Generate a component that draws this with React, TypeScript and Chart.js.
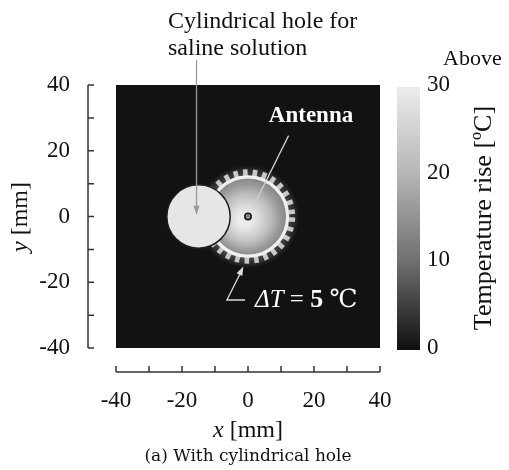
import React, { useEffect, useRef } from 'react';
import { Chart, registerables } from 'chart.js';
Chart.register(...registerables);

// ---- data ----
const axisMin = -40;
const axisMax = 40;
const axisTicks = [-40, -30, -20, -10, 0, 10, 20, 30, 40];
const labeledTicks = [-40, -20, 0, 20, 40];
const colorbarTicks = [0, 10, 20, 30];
const colorbarGray = [18, 112, 182, 238];
const holeCenter = [-15, 0];
const holeRadius = 9.6;
const antennaPos = [0, 0];
// temperature rise (°C) versus distance from antenna (mm), estimated from the grey levels
const heatRadius = [0, 2, 4.5, 7.5, 10, 11.8, 12.6, 14, 15.6];
const heatTemp = [31, 29.5, 26, 21, 16, 13.5, 5, 3, 0];
const contourLevel = 5;
const contourRadius = 12;
const toothOuterRadius = 14.3;
const toothStepDeg = 12.5;

const SERIF = '"Liberation Serif", "DejaVu Serif", serif';

function grayFor(t: number) {
  let g = colorbarGray[0];
  if (t >= colorbarTicks[colorbarTicks.length - 1]) g = colorbarGray[colorbarGray.length - 1];
  else {
    for (let i = 0; i < colorbarTicks.length - 1; i++) {
      if (t >= colorbarTicks[i] && t <= colorbarTicks[i + 1]) {
        const f = (t - colorbarTicks[i]) / (colorbarTicks[i + 1] - colorbarTicks[i]);
        g = colorbarGray[i] + f * (colorbarGray[i + 1] - colorbarGray[i]);
      }
    }
  }
  const v = Math.round(g);
  return `rgb(${v},${v},${v})`;
}

function arrowHead(ctx: CanvasRenderingContext2D, x0: number, y0: number, x1: number, y1: number, len: number, half: number) {
  const ang = Math.atan2(y1 - y0, x1 - x0);
  ctx.beginPath();
  ctx.moveTo(x1, y1);
  ctx.lineTo(x1 - len * Math.cos(ang) + half * Math.sin(ang), y1 - len * Math.sin(ang) - half * Math.cos(ang));
  ctx.lineTo(x1 - len * Math.cos(ang) - half * Math.sin(ang), y1 - len * Math.sin(ang) + half * Math.cos(ang));
  ctx.closePath();
  ctx.fill();
}

const figurePlugin = {
  id: 'figure',
  beforeDatasetsDraw(chart: any) {
    const { ctx, chartArea: a, scales } = chart;
    const X = (v: number) => scales.x.getPixelForValue(v);
    const Y = (v: number) => scales.y.getPixelForValue(v);
    const mm = (r: number) => X(r) - X(0);
    ctx.save();
    ctx.fillStyle = '#121212';
    ctx.fillRect(a.left, a.top, a.right - a.left, a.bottom - a.top);

    // heat field around the antenna
    const cx = X(antennaPos[0]);
    const cy = Y(antennaPos[1]);
    const maxR = heatRadius[heatRadius.length - 1];
    const g = ctx.createRadialGradient(cx - mm(1.2), cy + mm(1.2), 0, cx, cy, mm(maxR));
    heatRadius.forEach((r, i) => g.addColorStop(r / maxR, grayFor(heatTemp[i])));
    ctx.fillStyle = g;
    ctx.beginPath();
    ctx.arc(cx, cy, mm(maxR), 0, Math.PI * 2);
    ctx.fill();

    // ΔT = 5 contour with its serrated edge
    ctx.fillStyle = '#c8c8c8';
    for (let d = 4; d < 364; d += toothStepDeg) {
      const t = (d * Math.PI) / 180;
      ctx.save();
      ctx.translate(cx, cy);
      ctx.rotate(t);
      ctx.fillRect(mm(contourRadius) - 1, -2.3, mm(toothOuterRadius - contourRadius) + 1, 4.6);
      ctx.restore();
    }
    ctx.strokeStyle = '#f0f0f0';
    ctx.lineWidth = 3.2;
    ctx.beginPath();
    ctx.arc(cx, cy, mm(contourRadius), 0, Math.PI * 2);
    ctx.stroke();

    // cylindrical hole
    ctx.fillStyle = '#e6e6e6';
    ctx.strokeStyle = '#1e1e1e';
    ctx.lineWidth = 1.5;
    ctx.beginPath();
    ctx.arc(X(holeCenter[0]), Y(holeCenter[1]), mm(holeRadius), 0, Math.PI * 2);
    ctx.fill();
    ctx.stroke();
    ctx.restore();
  },
  afterDraw(chart: any) {
    const { ctx, chartArea: a, scales } = chart;
    const X = (v: number) => scales.x.getPixelForValue(v);
    const Y = (v: number) => scales.y.getPixelForValue(v);
    const cb = scales.cb;
    ctx.save();

    // annotation: hole arrow
    ctx.strokeStyle = '#9a9a9a';
    ctx.fillStyle = '#9a9a9a';
    ctx.lineWidth = 1.3;
    const hx = X(-15.6);
    ctx.beginPath();
    ctx.moveTo(hx, 60);
    ctx.lineTo(hx, Y(1));
    ctx.stroke();
    arrowHead(ctx, hx, 60, hx, Y(0.5), 9, 3);

    // annotation: antenna line
    ctx.strokeStyle = '#cfcfcf';
    ctx.beginPath();
    ctx.moveTo(X(12.3), Y(24.6));
    ctx.lineTo(X(1.4), Y(2.6));
    ctx.stroke();

    // annotation: ΔT arrow
    ctx.strokeStyle = '#dcdcdc';
    ctx.fillStyle = '#dcdcdc';
    ctx.beginPath();
    ctx.moveTo(X(-0.9), Y(-25.4));
    ctx.lineTo(X(-6.4), Y(-25.4));
    ctx.lineTo(X(-1.6), Y(-15.8));
    ctx.stroke();
    arrowHead(ctx, X(-6.4), Y(-25.4), X(-1.4), Y(-15.2), 9, 3.2);

    // axis lines with inward ticks (offset from the field)
    ctx.strokeStyle = '#333';
    ctx.lineWidth = 1.5;
    const ax = a.left - 28;
    ctx.beginPath();
    ctx.moveTo(ax, Y(axisMax));
    ctx.lineTo(ax, Y(axisMin));
    axisTicks.forEach((t) => {
      ctx.moveTo(ax, Y(t));
      ctx.lineTo(ax + 6, Y(t));
    });
    const ay = a.bottom + 24;
    ctx.moveTo(X(axisMin), ay);
    ctx.lineTo(X(axisMax), ay);
    axisTicks.forEach((t) => {
      ctx.moveTo(X(t), ay);
      ctx.lineTo(X(t), ay - 6);
    });
    ctx.stroke();

    // colour bar
    const top = cb.getPixelForValue(colorbarTicks[colorbarTicks.length - 1]);
    const bot = cb.getPixelForValue(colorbarTicks[0]);
    const lg = ctx.createLinearGradient(0, bot, 0, top);
    colorbarTicks.forEach((t, i) => lg.addColorStop(i / (colorbarTicks.length - 1), grayFor(t)));
    ctx.fillStyle = lg;
    ctx.fillRect(a.right + 17, top + 2, 23, bot - top);

    // texts
    ctx.fillStyle = '#111';
    ctx.textBaseline = 'alphabetic';
    ctx.textAlign = 'left';
    ctx.font = `24px ${SERIF}`;
    ctx.fillText('Cylindrical hole for', 168, 28);
    ctx.fillText('saline solution', 168, 55);
    ctx.font = `22px ${SERIF}`;
    ctx.fillText('Above', 443, 65);

    ctx.save();
    ctx.translate(491, 218);
    ctx.rotate(-Math.PI / 2);
    ctx.textAlign = 'center';
    ctx.font = `26px ${SERIF}`;
    ctx.fillText('Temperature rise [ºC]', 0, 0);
    ctx.restore();

    ctx.save();
    ctx.translate(27, 217);
    ctx.rotate(-Math.PI / 2);
    ctx.textAlign = 'left';
    ctx.font = `italic 24px ${SERIF}`;
    const w1 = ctx.measureText('y').width;
    ctx.font = `24px ${SERIF}`;
    const w2 = ctx.measureText(' [mm]').width;
    ctx.font = `italic 24px ${SERIF}`;
    ctx.fillText('y', -(w1 + w2) / 2, 0);
    ctx.font = `24px ${SERIF}`;
    ctx.fillText(' [mm]', -(w1 + w2) / 2 + w1, 0);
    ctx.restore();

    ctx.font = `italic 24px ${SERIF}`;
    const xw1 = ctx.measureText('x').width;
    ctx.font = `24px ${SERIF}`;
    const xw2 = ctx.measureText(' [mm]').width;
    const xs = X(0) - (xw1 + xw2) / 2;
    ctx.font = `italic 24px ${SERIF}`;
    ctx.fillText('x', xs, 437);
    ctx.font = `24px ${SERIF}`;
    ctx.fillText(' [mm]', xs + xw1, 437);

    ctx.textAlign = 'center';
    ctx.font = `17px "DejaVu Serif", serif`;
    ctx.fillText('(a) With cylindrical hole', X(0), 461);

    // white labels inside the field
    ctx.fillStyle = '#ffffff';
    ctx.font = `bold 23px ${SERIF}`;
    ctx.fillText('Antenna', 311, 122);

    ctx.textAlign = 'left';
    let tx = 255;
    const parts: [string, string][] = [
      ['italic 25px', 'ΔT'],
      ['25px', ' = '],
      ['bold 26px', String(contourLevel)],
      ['25px', ' ℃'],
    ];
    parts.forEach(([f, s]) => {
      ctx.font = `${f} ${SERIF}`;
      ctx.fillText(s, tx, 307);
      tx += ctx.measureText(s).width;
    });
    ctx.restore();
  },
};

export default function App() {
  const ref = useRef<HTMLCanvasElement>(null);
  useEffect(() => {
    const tickFont = { family: SERIF, size: 23 };
    const chart = new Chart(ref.current as HTMLCanvasElement, {
      type: 'scatter',
      data: {
        datasets: [
          {
            label: 'Antenna',
            data: [{ x: antennaPos[0], y: antennaPos[1] }],
            pointRadius: 3.2,
            backgroundColor: '#8a8a8a',
            borderColor: '#1a1a1a',
            borderWidth: 1.6,
          },
        ],
      },
      options: {
        animation: false,
        responsive: false,
        layout: { padding: { top: 85, left: 0, right: 0, bottom: 0 } },
        plugins: { legend: { display: false }, tooltip: { enabled: false } },
        scales: {
          x: {
            type: 'linear',
            min: axisMin,
            max: axisMax,
            grid: { display: false, drawTicks: false },
            border: { display: false },
            ticks: {
              stepSize: 10,
              autoSkip: false,
              maxRotation: 0,
              padding: 39,
              color: '#111',
              font: tickFont,
              callback: (v: any) => (labeledTicks.includes(Number(v)) ? String(v) : ''),
            },
            afterFit: (s: any) => {
              s.height = 122;
            },
          },
          y: {
            type: 'linear',
            position: 'left',
            min: axisMin,
            max: axisMax,
            grid: { display: false, drawTicks: false },
            border: { display: false },
            ticks: {
              stepSize: 10,
              autoSkip: false,
              padding: 46,
              color: '#111',
              font: tickFont,
              callback: (v: any) => (labeledTicks.includes(Number(v)) ? String(v) : ''),
            },
            afterFit: (s: any) => {
              s.width = 116;
            },
          },
          cb: {
            type: 'linear',
            position: 'right',
            min: colorbarTicks[0],
            max: colorbarTicks[colorbarTicks.length - 1],
            grid: { display: false, drawTicks: false },
            border: { display: false },
            ticks: {
              stepSize: 10,
              autoSkip: false,
              padding: 47,
              color: '#111',
              font: tickFont,
            },
            afterFit: (s: any) => {
              s.width = 129;
            },
          },
        },
      },
      plugins: [figurePlugin],
    });
    return () => chart.destroy();
  }, []);
  return (
    <div style={{ position: 'absolute', left: 0, top: 0, width: 509, height: 470, background: '#fff' }}>
      <canvas ref={ref} width={509} height={470} style={{ display: 'block', width: 509, height: 470 }} />
    </div>
  );
}
